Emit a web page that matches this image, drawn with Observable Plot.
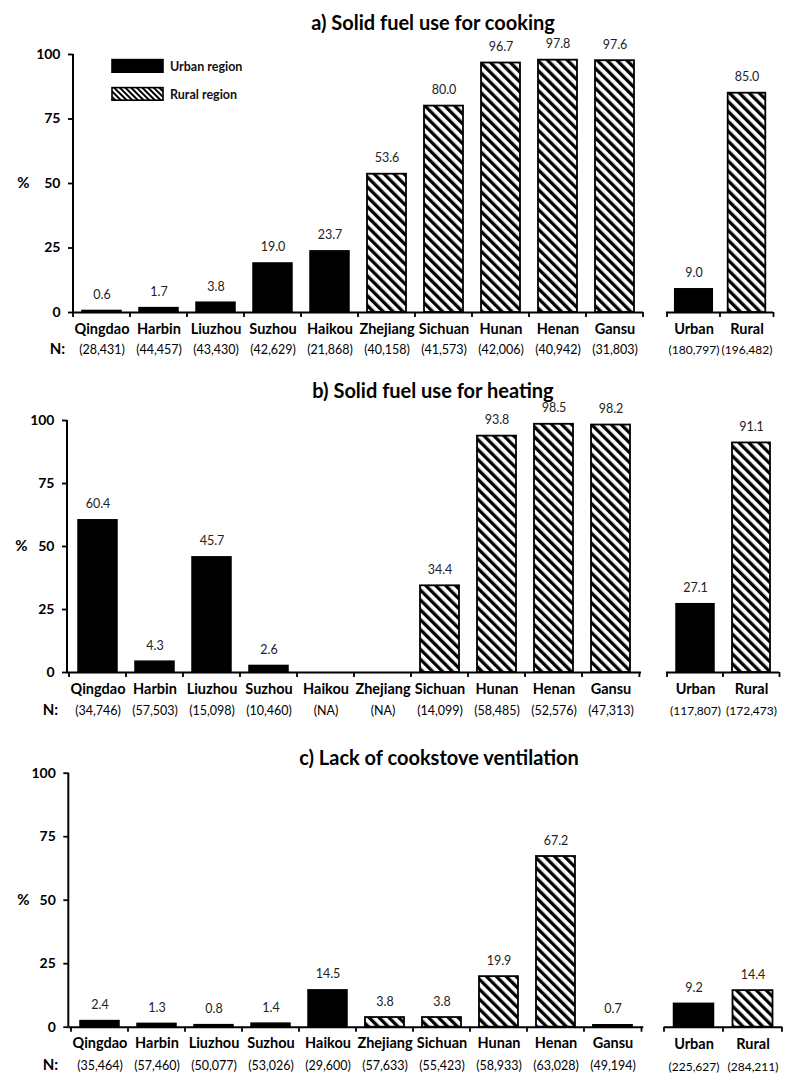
<!DOCTYPE html>
<html><head><meta charset="utf-8">
<script src="https://cdn.jsdelivr.net/npm/d3@7"></script>
<script src="https://cdn.jsdelivr.net/npm/@observablehq/plot@0.6"></script>
<style>
body{margin:0;background:#fff;font-family:Lato,"Open Sans",sans-serif;}
#root{position:relative;width:800px;height:1091px;overflow:hidden;}
.abs{position:absolute;}
.title{position:absolute;font-weight:bold;font-size:20px;color:#000;white-space:nowrap;transform:translate(-50%,-50%);}
.leg{position:absolute;font-weight:bold;font-size:12.5px;color:#111;white-space:nowrap;transform:translateY(-50%);}
</style></head><body>
<svg width="0" height="0" style="position:absolute">
  <defs>
    <pattern id="hatch" patternUnits="userSpaceOnUse" width="7" height="7" patternTransform="rotate(-45)">
      <rect width="7" height="7" fill="#fff"/><rect width="3.3" height="7" fill="#000"/>
    </pattern>
    <pattern id="hatchSmall" patternUnits="userSpaceOnUse" width="4" height="4" patternTransform="rotate(-45)">
      <rect width="4" height="4" fill="#fff"/><rect width="2" height="4" fill="#000"/>
    </pattern>
  </defs>
</svg>
<div id="root"></div>
<script>
// ---- data ----
const regions = ["Qingdao","Harbin","Liuzhou","Suzhou","Haikou","Zhejiang","Sichuan","Hunan","Henan","Gansu"];
const regionType = ["Urban","Urban","Urban","Urban","Urban","Rural","Rural","Rural","Rural","Rural"];
const summaryCats = ["Urban","Rural"];
const yTicks = [0,25,50,75,100];

const cookingTitle = "a) Solid fuel use for cooking";
const cookingValues = [0.6,1.7,3.8,19.0,23.7,53.6,80.0,96.7,97.8,97.6];
const cookingN = ["28,431","44,457","43,430","42,629","21,868","40,158","41,573","42,006","40,942","31,803"];
const cookingSummary = [9.0,85.0];
const cookingSummaryN = ["180,797","196,482"];

const heatingTitle = "b) Solid fuel use for heating";
const heatingValues = [60.4,4.3,45.7,2.6,null,null,34.4,93.8,98.5,98.2];
const heatingN = ["34,746","57,503","15,098","10,460","NA","NA","14,099","58,485","52,576","47,313"];
const heatingSummary = [27.1,91.1];
const heatingSummaryN = ["117,807","172,473"];

const ventTitle = "c) Lack of cookstove ventilation";
const ventValues = [2.4,1.3,0.8,1.4,14.5,3.8,3.8,19.9,67.2,0.7];
const ventN = ["35,464","57,460","50,077","53,026","29,600","57,633","55,423","58,933","63,028","49,194"];
const ventSummary = [9.2,14.4];
const ventSummaryN = ["225,627","284,211"];

const legendLabels = ["Urban region","Rural region"];

// ---- layout ----
const panels = [
  {title: cookingTitle, values: cookingValues, ns: cookingN, sum: cookingSummary, sumN: cookingSummaryN,
   top: 0, height: 360, x0: 73, x1: 643, mt: 54, mb: 48, s0: 666, s1: 773, pctX: 23, nX: 57,
   titleX: 433, titleY: 22, dyCat: 21, dyN: 41, inset: 9, sInset: 7.7, legend: true},
  {title: heatingTitle, values: heatingValues, ns: heatingN, sum: heatingSummary, sumN: heatingSummaryN,
   top: 360, height: 360, x0: 67, x1: 641, mt: 60, mb: 48, s0: 666, s1: 779, pctX: 21, nX: 50,
   titleX: 433, titleY: 30, dyCat: 21, dyN: 42, inset: 9, sInset: 9},
  {title: ventTitle, values: ventValues, ns: ventN, sum: ventSummary, sumN: ventSummaryN,
   top: 720, height: 371, x0: 68.3, x1: 643.3, mt: 52.7, mb: 64.3, s0: 664.3, s1: 782.3, pctX: 23, nX: 50,
   titleX: 439, titleY: 37, dyCat: 21.3, dyN: 43.3, inset: 9, sInset: 9.5}
];

const root = document.getElementById("root");
const FONT = "Lato, 'Open Sans', sans-serif";

function bandTicks(domain) {
  // render function: tick marks at band boundaries
  return (index, scales, values, dims) => {
    const g = d3.create("svg:g").attr("stroke", "#000").attr("stroke-width", 1.8);
    const yb = dims.height - dims.marginBottom;
    const left = dims.marginLeft, right = dims.width - dims.marginRight;
    const bw = (right - left) / domain.length;
    for (let i = 0; i <= domain.length; i++) {
      const x = i < domain.length ? scales.x(domain[i]) : scales.x(domain[domain.length - 1]) + bw;
      g.append("line").attr("x1", x).attr("x2", x).attr("y1", yb).attr("y2", yb + 5);
    }
    return g.node();
  };
}
function leftLine() {
  return (index, scales, values, dims) => {
    const g = d3.create("svg:g");
    g.append("line").attr("x1", dims.marginLeft).attr("x2", dims.marginLeft)
      .attr("y1", scales.y(100)).attr("y2", dims.height - dims.marginBottom)
      .attr("stroke", "#000").attr("stroke-width", 2);
    return g.node();
  };
}

function barMarks(data, inset, p, nSize) {
  const bars = data.filter(d => d.value != null);
  return [
    Plot.barY(bars.filter(d => d.type === "Urban"), {x: "cat", y: "value", fill: "#000", stroke: "#000", strokeWidth: 1.5, insetLeft: inset, insetRight: inset}),
    Plot.barY(bars.filter(d => d.type === "Rural"), {x: "cat", y: "value", fill: "url(#hatch)", stroke: "#000", strokeWidth: 1.8, insetLeft: inset, insetRight: inset}),
    Plot.text(bars, {x: "cat", y: "value", text: d => d.value.toFixed(1), dy: -16, fontSize: 12.5, fill: "#222"}),
    Plot.ruleY([0], {stroke: "#000", strokeWidth: 2}),
    Plot.text(data, {x: "cat", text: "cat", frameAnchor: "bottom", dy: p.dyCat, fontWeight: "bold", fontSize: 14.5, fill: "#000"}),
    Plot.text(data, {x: "cat", text: d => `(${d.n})`, frameAnchor: "bottom", dy: p.dyN, fontSize: nSize, fill: "#000"})
  ];
}

panels.forEach((p) => {
  const box = document.createElement("div");
  box.className = "abs";
  box.style.left = "0px"; box.style.top = p.top + "px";
  box.style.width = "800px"; box.style.height = p.height + "px";
  root.appendChild(box);

  const t = document.createElement("div");
  t.className = "title"; t.textContent = p.title;
  t.style.left = p.titleX + "px"; t.style.top = p.titleY + "px";
  box.appendChild(t);

  // main chart
  const data = regions.map((r, i) => ({cat: r, type: regionType[i], value: p.values[i], n: p.ns[i]}));
  const mainWidth = p.x1 + 8;
  const main = Plot.plot({
    width: mainWidth, height: p.height,
    marginLeft: p.x0, marginRight: mainWidth - p.x1, marginTop: p.mt, marginBottom: p.mb,
    x: {domain: regions, padding: 0, axis: null},
    y: {domain: [0, 100], axis: null},
    style: {background: "transparent", overflow: "visible", fontFamily: FONT},
    marks: [
      ...barMarks(data, p.inset, p, 12.5),
      Plot.axisY({ticks: yTicks, tickSize: 5, tickPadding: 8, fontSize: 14, fontWeight: "bold", label: null, strokeWidth: 1.8, tickFormat: d => String(d)}),
      Plot.text(["%"], {y: [50], text: d => d, frameAnchor: "left", dx: p.pctX - p.x0, textAnchor: "middle", fontWeight: "bold", fontSize: 15, fill: "#000"}),
      Plot.text(["N:"], {frameAnchor: "bottom-left", dx: p.nX - p.x0, dy: p.dyN, textAnchor: "middle", fontWeight: "bold", fontSize: 15, fill: "#000"}),
      leftLine(),
      bandTicks(regions)
    ]
  });
  main.style.position = "absolute"; main.style.left = "0px"; main.style.top = "0px";
  box.appendChild(main);

  // summary chart
  const sdata = summaryCats.map((c, i) => ({cat: c, type: c, value: p.sum[i], n: p.sumN[i]}));
  const sLeft = p.s0 - 12;
  const sWidth = p.s1 - sLeft + 10;
  const side = Plot.plot({
    width: sWidth, height: p.height,
    marginLeft: p.s0 - sLeft, marginRight: sWidth - (p.s1 - sLeft), marginTop: p.mt, marginBottom: p.mb,
    x: {domain: summaryCats, padding: 0, axis: null},
    y: {domain: [0, 100], axis: null},
    style: {background: "transparent", overflow: "visible", fontFamily: FONT},
    marks: [
      ...barMarks(sdata, p.sInset, p, 12),
      bandTicks(summaryCats)
    ]
  });
  side.style.position = "absolute"; side.style.left = sLeft + "px"; side.style.top = "0px";
  box.appendChild(side);

  if (p.legend) {
    legendLabels.forEach((lab, i) => {
      const ly = 66 + i * 28;
      const s = document.createElementNS("http://www.w3.org/2000/svg", "svg");
      s.setAttribute("width", 54); s.setAttribute("height", 16);
      s.style.position = "absolute"; s.style.left = "110.5px"; s.style.top = (ly - 8) + "px";
      const r = document.createElementNS("http://www.w3.org/2000/svg", "rect");
      r.setAttribute("x", 1); r.setAttribute("y", 1.6); r.setAttribute("width", 51); r.setAttribute("height", 12.6);
      r.setAttribute("fill", i === 0 ? "#000" : "url(#hatchSmall)");
      r.setAttribute("stroke", "#000"); r.setAttribute("stroke-width", 1.6);
      s.appendChild(r);
      box.appendChild(s);
      const tx = document.createElement("div");
      tx.className = "leg"; tx.textContent = lab;
      tx.style.left = "170px"; tx.style.top = ly + "px";
      box.appendChild(tx);
    });
  }
});
</script>
</body></html>
